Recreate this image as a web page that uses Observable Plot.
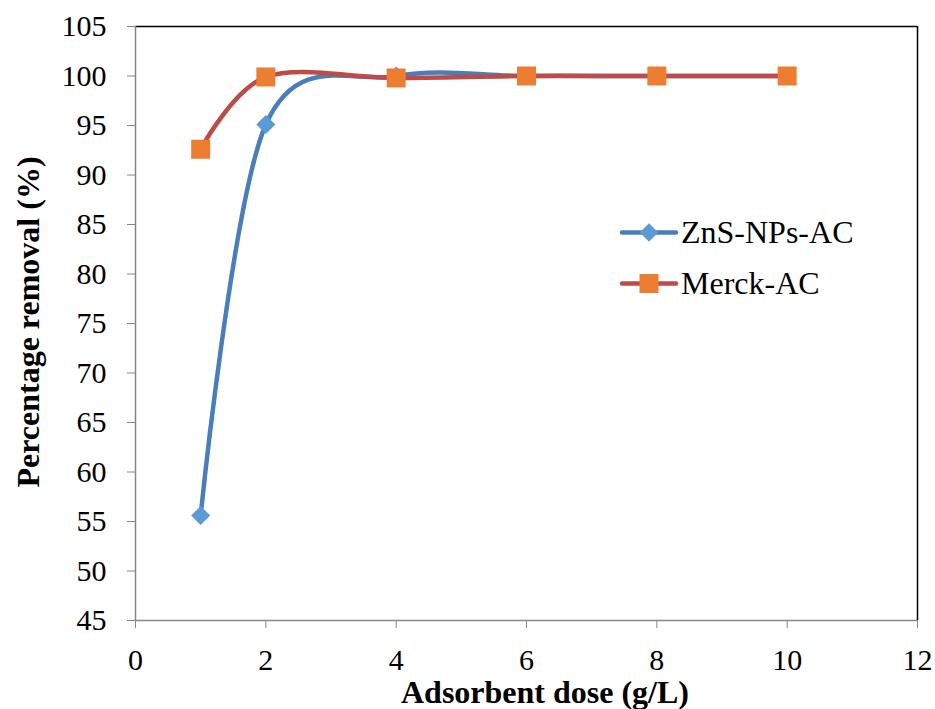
<!DOCTYPE html>
<html><head><meta charset="utf-8">
<script src="https://cdn.jsdelivr.net/npm/d3@7"></script>
<script src="https://cdn.jsdelivr.net/npm/@observablehq/plot@0.6"></script>
<style>
body{margin:0;background:#fff;font-family:"Liberation Serif","Times New Roman",serif;}
#wrap{position:relative;width:935px;height:709px;overflow:hidden;}
#wrap svg text{font-family:"Liberation Serif","Times New Roman",serif;}
.ttl{position:absolute;font-weight:bold;font-size:32px;color:#000;white-space:nowrap;line-height:1;}
.leg{position:absolute;font-size:32px;white-space:nowrap;display:flex;align-items:center;line-height:1;}
</style></head>
<body><div id="wrap"></div>
<script>
const doses = [1, 2, 4, 6, 8, 10];
const znsRemoval = [55.6, 95.1, 100.0, 100.0, 100.0, 100.0];
const merckRemoval = [92.6, 99.9, 99.8, 100.0, 100.0, 100.0];
const seriesNames = ["ZnS-NPs-AC", "Merck-AC"];
const xTicks = [0, 2, 4, 6, 8, 10, 12];
const yTicks = [45, 50, 55, 60, 65, 70, 75, 80, 85, 90, 95, 100, 105];
const lineColors = ["#4a7ebb", "#be4b48"];
const markerColors = ["#5b9bd5", "#ed7d31"];

const zns = doses.map((d, i) => ({x: d, y: znsRemoval[i]}));
const merck = doses.map((d, i) => ({x: d, y: merckRemoval[i]}));
const serif = "Liberation Serif, Times New Roman, serif";

const chart = Plot.plot({
  width: 935, height: 709,
  marginLeft: 135, marginRight: 18, marginTop: 26, marginBottom: 89,
  style: {background: "white", color: "black"},
  x: {domain: [0, 12]},
  y: {domain: [45, 105]},
  marks: [
    Plot.ruleY([105], {stroke: "black", strokeWidth: 1.5}),
    Plot.ruleX([12], {stroke: "black", strokeWidth: 1.5}),
    Plot.ruleX([0], {stroke: "#868686", strokeWidth: 1.5}),
    Plot.ruleY([45], {stroke: "#868686", strokeWidth: 1.5}),
    Plot.axisX({ticks: xTicks, tickSize: 8, tickPadding: 20, stroke: "#868686", fill: "black", label: null, fontSize: 30, fontFamily: serif}),
    Plot.axisY({ticks: yTicks, tickSize: 8, tickPadding: 21, stroke: "#868686", fill: "black", label: null, fontSize: 30, fontFamily: serif}),
    Plot.line(zns, {x: "x", y: "y", curve: "cardinal", stroke: lineColors[0], strokeWidth: 4.5}),
    Plot.line(merck, {x: "x", y: "y", curve: "cardinal", stroke: lineColors[1], strokeWidth: 4.5}),
    Plot.dot(zns, {x: "x", y: "y", symbol: "diamond2", r: 8.6, fill: markerColors[0], stroke: "none"}),
    Plot.dot(merck, {x: "x", y: "y", symbol: "square", r: 10.7, fill: markerColors[1], stroke: "none"})
  ]
});
chart.setAttribute("font-family", serif);
const wrap = document.getElementById("wrap");
wrap.appendChild(chart);

const xt = document.createElement("div");
xt.className = "ttl"; xt.textContent = "Adsorbent dose (g/L)";
xt.style.left = "545px"; xt.style.top = "676px"; xt.style.transform = "translateX(-50%)";
wrap.appendChild(xt);

const yt = document.createElement("div");
yt.className = "ttl"; yt.textContent = "Percentage removal (%)";
yt.style.left = "28px"; yt.style.top = "322px"; yt.style.transform = "translate(-50%,-50%) rotate(-90deg)";
wrap.appendChild(yt);

const legTops = [232, 283];
seriesNames.forEach((name, i) => {
  const d = document.createElement("div");
  d.className = "leg";
  d.style.left = "619px"; d.style.top = (legTops[i] - 18) + "px"; d.style.height = "36px";
  const mk = i === 0
    ? `<rect x="23.5" y="11" width="13" height="13" transform="rotate(45 30 17.5)" fill="${markerColors[0]}"/>`
    : `<rect x="20.5" y="8" width="19" height="19" fill="${markerColors[1]}"/>`;
  d.innerHTML = `<svg width="60" height="35" style="margin-right:2px"><line x1="3" y1="17.5" x2="57" y2="17.5" stroke="${lineColors[i]}" stroke-width="4.5" stroke-linecap="round"/>${mk}</svg><span>${name}</span>`;
  wrap.appendChild(d);
});
</script></body></html>
